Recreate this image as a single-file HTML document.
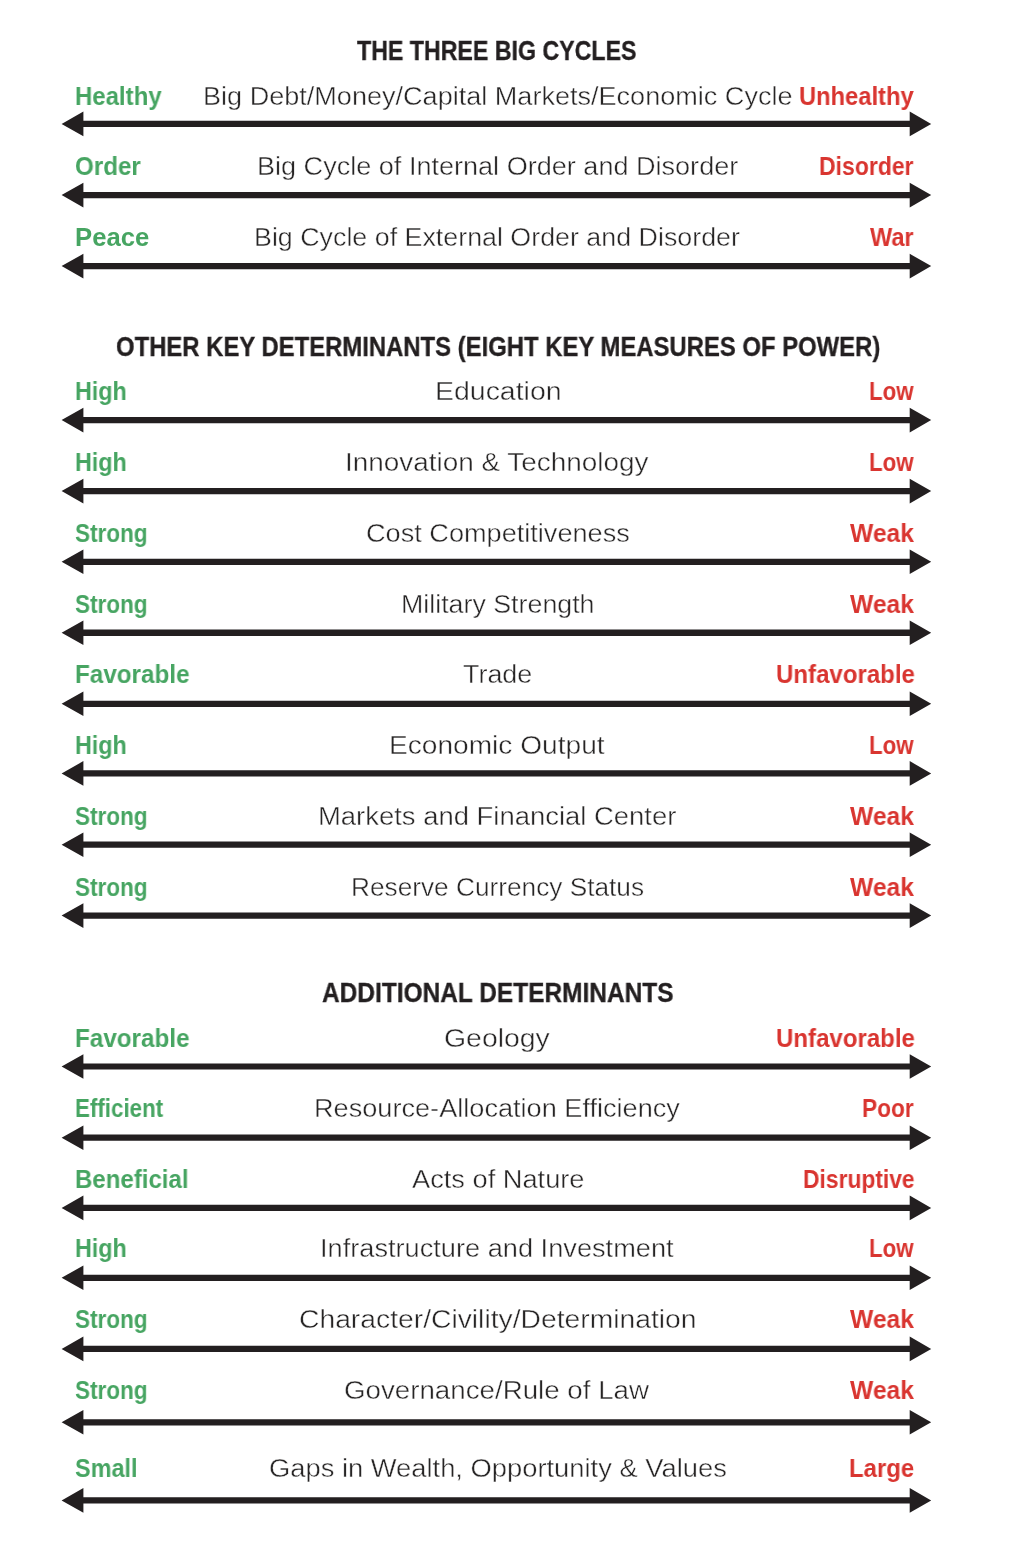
<!DOCTYPE html>
<html lang="en"><head><meta charset="utf-8"><title>Determinants</title>
<style>
html,body{margin:0;padding:0;background:#ffffff;}
body{width:1018px;height:1562px;position:relative;overflow:hidden;font-family:"Liberation Sans",sans-serif;}
.t{position:absolute;white-space:nowrap;line-height:1;transform-origin:0 0;margin:0;padding:0;will-change:transform;}
.g{color:#47a562;font-weight:bold;}
.r{color:#d93530;font-weight:bold;}
.c{color:#272525;font-weight:normal;-webkit-text-stroke:0.4px #ffffff;}
.h{color:#231f20;font-weight:bold;-webkit-text-stroke:0.3px #231f20;}
svg.a{position:absolute;left:0;top:0;}
</style></head>
<body>
<svg class="a" width="1018" height="1562" viewBox="0 0 1018 1562">
<polygon fill="#231f20" points="61.6,123.9 83.4,111.6 83.4,120.8 909.7,120.8 909.7,111.6 931.2,123.9 909.7,136.2 909.7,127.0 83.4,127.0 83.4,136.2"/>
<polygon fill="#231f20" points="61.6,195.1 83.4,182.8 83.4,192.0 909.7,192.0 909.7,182.8 931.2,195.1 909.7,207.4 909.7,198.2 83.4,198.2 83.4,207.4"/>
<polygon fill="#231f20" points="61.6,266.1 83.4,253.8 83.4,262.9 909.7,262.9 909.7,253.8 931.2,266.1 909.7,278.4 909.7,269.2 83.4,269.2 83.4,278.4"/>
<polygon fill="#231f20" points="61.6,420.1 83.4,407.8 83.4,417.0 909.7,417.0 909.7,407.8 931.2,420.1 909.7,432.4 909.7,423.2 83.4,423.2 83.4,432.4"/>
<polygon fill="#231f20" points="61.6,491.1 83.4,478.8 83.4,488.0 909.7,488.0 909.7,478.8 931.2,491.1 909.7,503.4 909.7,494.2 83.4,494.2 83.4,503.4"/>
<polygon fill="#231f20" points="61.6,561.8 83.4,549.5 83.4,558.7 909.7,558.7 909.7,549.5 931.2,561.8 909.7,574.1 909.7,564.9 83.4,564.9 83.4,574.1"/>
<polygon fill="#231f20" points="61.6,632.8 83.4,620.5 83.4,629.6 909.7,629.6 909.7,620.5 931.2,632.8 909.7,645.0 909.7,635.9 83.4,635.9 83.4,645.0"/>
<polygon fill="#231f20" points="61.6,703.8 83.4,691.5 83.4,700.7 909.7,700.7 909.7,691.5 931.2,703.8 909.7,716.1 909.7,706.9 83.4,706.9 83.4,716.1"/>
<polygon fill="#231f20" points="61.6,773.4 83.4,761.1 83.4,770.3 909.7,770.3 909.7,761.1 931.2,773.4 909.7,785.7 909.7,776.5 83.4,776.5 83.4,785.7"/>
<polygon fill="#231f20" points="61.6,844.7 83.4,832.4 83.4,841.6 909.7,841.6 909.7,832.4 931.2,844.7 909.7,857.0 909.7,847.8 83.4,847.8 83.4,857.0"/>
<polygon fill="#231f20" points="61.6,915.6 83.4,903.3 83.4,912.5 909.7,912.5 909.7,903.3 931.2,915.6 909.7,927.9 909.7,918.7 83.4,918.7 83.4,927.9"/>
<polygon fill="#231f20" points="61.6,1066.5 83.4,1054.2 83.4,1063.4 909.7,1063.4 909.7,1054.2 931.2,1066.5 909.7,1078.8 909.7,1069.6 83.4,1069.6 83.4,1078.8"/>
<polygon fill="#231f20" points="61.6,1137.7 83.4,1125.4 83.4,1134.6 909.7,1134.6 909.7,1125.4 931.2,1137.7 909.7,1150.0 909.7,1140.8 83.4,1140.8 83.4,1150.0"/>
<polygon fill="#231f20" points="61.6,1207.9 83.4,1195.6 83.4,1204.8 909.7,1204.8 909.7,1195.6 931.2,1207.9 909.7,1220.2 909.7,1211.0 83.4,1211.0 83.4,1220.2"/>
<polygon fill="#231f20" points="61.6,1277.8 83.4,1265.5 83.4,1274.7 909.7,1274.7 909.7,1265.5 931.2,1277.8 909.7,1290.1 909.7,1280.9 83.4,1280.9 83.4,1290.1"/>
<polygon fill="#231f20" points="61.6,1348.9 83.4,1336.6 83.4,1345.8 909.7,1345.8 909.7,1336.6 931.2,1348.9 909.7,1361.2 909.7,1352.0 83.4,1352.0 83.4,1361.2"/>
<polygon fill="#231f20" points="61.6,1422.3 83.4,1410.0 83.4,1419.2 909.7,1419.2 909.7,1410.0 931.2,1422.3 909.7,1434.6 909.7,1425.4 83.4,1425.4 83.4,1434.6"/>
<polygon fill="#231f20" points="61.6,1500.4 83.4,1488.1 83.4,1497.3 909.7,1497.3 909.7,1488.1 931.2,1500.4 909.7,1512.7 909.7,1503.5 83.4,1503.5 83.4,1512.7"/>
</svg>
<div class="t g" style="left:75.32px;top:84.00px;font-size:25.0px;transform:scaleX(0.9586)">Healthy</div>
<div class="t c" style="left:202.56px;top:84.00px;font-size:25.0px;transform:scaleX(1.0824)">Big Debt/Money/Capital Markets/Economic Cycle</div>
<div class="t r" style="left:798.60px;top:84.00px;font-size:25.0px;transform:scaleX(0.9488)">Unhealthy</div>
<div class="t g" style="left:74.64px;top:154.00px;font-size:25.0px;transform:scaleX(0.9663)">Order</div>
<div class="t c" style="left:256.77px;top:154.00px;font-size:25.0px;transform:scaleX(1.0823)">Big Cycle of Internal Order and Disorder</div>
<div class="t r" style="left:819.20px;top:154.00px;font-size:25.0px;transform:scaleX(0.9191)">Disorder</div>
<div class="t g" style="left:74.81px;top:225.00px;font-size:25.0px;transform:scaleX(1.0271)">Peace</div>
<div class="t c" style="left:254.17px;top:225.00px;font-size:25.0px;transform:scaleX(1.0727)">Big Cycle of External Order and Disorder</div>
<div class="t r" style="left:870.34px;top:225.00px;font-size:25.0px;transform:scaleX(0.9411)">War</div>
<div class="t g" style="left:74.60px;top:379.00px;font-size:25.0px;transform:scaleX(0.9321)">High</div>
<div class="t c" style="left:434.65px;top:379.00px;font-size:25.0px;transform:scaleX(1.1385)">Education</div>
<div class="t r" style="left:869.14px;top:379.00px;font-size:25.0px;transform:scaleX(0.8914)">Low</div>
<div class="t g" style="left:74.60px;top:450.00px;font-size:25.0px;transform:scaleX(0.9321)">High</div>
<div class="t c" style="left:344.60px;top:450.00px;font-size:25.0px;transform:scaleX(1.1159)">Innovation &amp; Technology</div>
<div class="t r" style="left:869.14px;top:450.00px;font-size:25.0px;transform:scaleX(0.8914)">Low</div>
<div class="t g" style="left:74.67px;top:521.00px;font-size:25.0px;transform:scaleX(0.9010)">Strong</div>
<div class="t c" style="left:365.67px;top:521.00px;font-size:25.0px;transform:scaleX(1.0848)">Cost Competitiveness</div>
<div class="t r" style="left:849.57px;top:521.00px;font-size:25.0px;transform:scaleX(0.9859)">Weak</div>
<div class="t g" style="left:74.67px;top:592.00px;font-size:25.0px;transform:scaleX(0.9010)">Strong</div>
<div class="t c" style="left:401.21px;top:592.00px;font-size:25.0px;transform:scaleX(1.0714)">Military Strength</div>
<div class="t r" style="left:849.57px;top:592.00px;font-size:25.0px;transform:scaleX(0.9859)">Weak</div>
<div class="t g" style="left:74.91px;top:662.00px;font-size:25.0px;transform:scaleX(0.9697)">Favorable</div>
<div class="t c" style="left:463.40px;top:662.00px;font-size:25.0px;transform:scaleX(1.0763)">Trade</div>
<div class="t r" style="left:775.56px;top:662.00px;font-size:25.0px;transform:scaleX(0.9613)">Unfavorable</div>
<div class="t g" style="left:74.60px;top:733.00px;font-size:25.0px;transform:scaleX(0.9321)">High</div>
<div class="t c" style="left:389.47px;top:733.00px;font-size:25.0px;transform:scaleX(1.1243)">Economic Output</div>
<div class="t r" style="left:869.14px;top:733.00px;font-size:25.0px;transform:scaleX(0.8914)">Low</div>
<div class="t g" style="left:74.67px;top:804.00px;font-size:25.0px;transform:scaleX(0.9010)">Strong</div>
<div class="t c" style="left:317.69px;top:804.00px;font-size:25.0px;transform:scaleX(1.0975)">Markets and Financial Center</div>
<div class="t r" style="left:849.57px;top:804.00px;font-size:25.0px;transform:scaleX(0.9859)">Weak</div>
<div class="t g" style="left:74.67px;top:875.00px;font-size:25.0px;transform:scaleX(0.9010)">Strong</div>
<div class="t c" style="left:350.64px;top:875.00px;font-size:25.0px;transform:scaleX(1.0493)">Reserve Currency Status</div>
<div class="t r" style="left:849.57px;top:875.00px;font-size:25.0px;transform:scaleX(0.9859)">Weak</div>
<div class="t g" style="left:74.91px;top:1026.00px;font-size:25.0px;transform:scaleX(0.9697)">Favorable</div>
<div class="t c" style="left:444.30px;top:1026.00px;font-size:25.0px;transform:scaleX(1.1363)">Geology</div>
<div class="t r" style="left:775.56px;top:1026.00px;font-size:25.0px;transform:scaleX(0.9613)">Unfavorable</div>
<div class="t g" style="left:74.68px;top:1096.00px;font-size:25.0px;transform:scaleX(0.8943)">Efficient</div>
<div class="t c" style="left:314.18px;top:1096.00px;font-size:25.0px;transform:scaleX(1.0852)">Resource-Allocation Efficiency</div>
<div class="t r" style="left:862.22px;top:1096.00px;font-size:25.0px;transform:scaleX(0.9059)">Poor</div>
<div class="t g" style="left:75.04px;top:1167.00px;font-size:25.0px;transform:scaleX(0.9609)">Beneficial</div>
<div class="t c" style="left:411.84px;top:1167.00px;font-size:25.0px;transform:scaleX(1.0889)">Acts of Nature</div>
<div class="t r" style="left:802.79px;top:1167.00px;font-size:25.0px;transform:scaleX(0.9127)">Disruptive</div>
<div class="t g" style="left:74.60px;top:1236.00px;font-size:25.0px;transform:scaleX(0.9321)">High</div>
<div class="t c" style="left:320.12px;top:1236.00px;font-size:25.0px;transform:scaleX(1.0874)">Infrastructure and Investment</div>
<div class="t r" style="left:869.14px;top:1236.00px;font-size:25.0px;transform:scaleX(0.8914)">Low</div>
<div class="t g" style="left:74.67px;top:1307.00px;font-size:25.0px;transform:scaleX(0.9010)">Strong</div>
<div class="t c" style="left:298.63px;top:1307.00px;font-size:25.0px;transform:scaleX(1.1309)">Character/Civility/Determination</div>
<div class="t r" style="left:849.57px;top:1307.00px;font-size:25.0px;transform:scaleX(0.9859)">Weak</div>
<div class="t g" style="left:74.67px;top:1378.00px;font-size:25.0px;transform:scaleX(0.9010)">Strong</div>
<div class="t c" style="left:344.16px;top:1378.00px;font-size:25.0px;transform:scaleX(1.1084)">Governance/Rule of Law</div>
<div class="t r" style="left:849.57px;top:1378.00px;font-size:25.0px;transform:scaleX(0.9859)">Weak</div>
<div class="t g" style="left:75.07px;top:1456.00px;font-size:25.0px;transform:scaleX(0.9370)">Small</div>
<div class="t c" style="left:268.91px;top:1456.00px;font-size:25.0px;transform:scaleX(1.0933)">Gaps in Wealth, Opportunity &amp; Values</div>
<div class="t r" style="left:849.13px;top:1456.00px;font-size:25.0px;transform:scaleX(0.9557)">Large</div>
<div class="t h" style="left:357.04px;top:38.00px;font-size:27.0px;transform:scaleX(0.8586)">THE THREE BIG CYCLES</div>
<div class="t h" style="left:115.62px;top:334.00px;font-size:27.0px;transform:scaleX(0.8841)">OTHER KEY DETERMINANTS (EIGHT KEY MEASURES OF POWER)</div>
<div class="t h" style="left:321.78px;top:980.00px;font-size:27.0px;transform:scaleX(0.9061)">ADDITIONAL DETERMINANTS</div>
</body></html>
